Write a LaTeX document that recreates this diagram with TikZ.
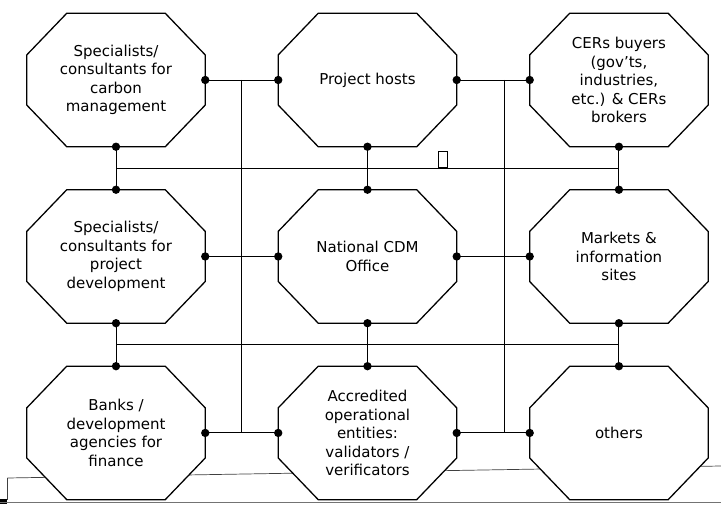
\documentclass[tikz,border=0pt]{standalone}
\usepackage{fontspec}
\setmainfont{DejaVu Sans}
\usetikzlibrary{positioning,calc,backgrounds}

\begin{document}
\begin{tikzpicture}[
    font=\fontsize{12.8}{15.8}\selectfont,
    actor/.style={rectangle, minimum width=5.34cm, minimum height=3.99cm, align=center, inner sep=2pt},
    octa/.style={draw, line width=1.1pt, fill=white, line join=miter},
    link/.style={line width=0.8pt},
    scan/.style={line width=0.6pt, black!75},
    glyphbox/.style={rectangle, draw, line width=0.7pt, minimum width=0.27cm, minimum height=0.5cm, inner sep=0pt, anchor=south},
    node distance=1.29cm and 2.19cm
]
\useasboundingbox (0,0) rectangle (21.63,15.21);

% ============================================================
% ACTORS — 3 x 3 grid
% ============================================================
\node[actor] (carbon) at (3.48,12.81) {Specialists/\\consultants for\\carbon\\management};
\node[actor, right=of carbon] (hosts)  {Project hosts};
\node[actor, right=of hosts]  (buyers) {CERs buyers\\(gov'ts,\\industries,\\etc.) \& CERs\\brokers};

\node[actor, below=of carbon] (projdev) {Specialists/\\consultants for\\project\\development};
\node[actor, below=of hosts]  (cdm)     {National CDM\\Office};
\node[actor, below=of buyers] (markets) {Markets \&\\information\\sites};

\node[actor, below=of projdev] (banks)  {Banks /\\development\\agencies for\\finance};
\node[actor, below=of cdm]     (doe)    {Accredited\\operational\\entities:\\validators /\\verificators};
\node[actor, below=of markets] (others) {others};

% octagon outlines behind the texts
\begin{scope}[on background layer]
    % scan traces along the bottom edge
    \draw[scan] (0.22,0.87) -- (21.63,1.23);
    \draw[scan] (0.22,0.87) -- (0.22,0.2);
    \fill (0,0.08) rectangle (0.22,0.25);
    \draw[scan, black!55] (0,0.15) -- (21.63,0.15);

    \foreach \n in {carbon,hosts,buyers,projdev,cdm,markets,banks,doe,others}
        \draw[octa] ([xshift=1.2cm]\n.north west) -- ([xshift=-1.2cm]\n.north east)
            -- ([yshift=-1.25cm]\n.north east) -- ([yshift=1.25cm]\n.south east)
            -- ([xshift=-1.2cm]\n.south east) -- ([xshift=1.2cm]\n.south west)
            -- ([yshift=1.25cm]\n.south west) -- ([yshift=-1.25cm]\n.north west) -- cycle;
\end{scope}

% ============================================================
% LINKS
% ============================================================
% left vertical bus
\draw[link] (carbon.east)  -- (hosts.west);
\draw[link] (projdev.east) -- (cdm.west);
\draw[link] (banks.east)   -- (doe.west);
\draw[link] ($(carbon.east)!0.5!(hosts.west)$) -- ($(banks.east)!0.5!(doe.west)$);

% right vertical bus
\draw[link] (hosts.east) -- (buyers.west);
\draw[link] (cdm.east)   -- (markets.west);
\draw[link] (doe.east)   -- (others.west);
\draw[link] ($(hosts.east)!0.65!(buyers.west)$) -- ($(doe.east)!0.65!(others.west)$);

% upper horizontal bus
\draw[link] (carbon.south) -- (projdev.north);
\draw[link] (hosts.south)  -- (cdm.north);
\draw[link] (buyers.south) -- (markets.north);
\coordinate (rowgap) at ($(hosts.south)!0.5!(cdm.north)$);
\draw[link] ($(carbon.south)!0.5!(projdev.north)$) -- ($(buyers.south)!0.5!(markets.north)$);

% lower horizontal bus
\draw[link] (projdev.south) -- (banks.north);
\draw[link] (cdm.south)     -- (doe.north);
\draw[link] (markets.south) -- (others.north);
\draw[link] ($(projdev.south)!0.5!(banks.north)$) -- ($(markets.south)!0.5!(others.north)$);

\node[glyphbox] (glyph) at ([xshift=2.25cm]rowgap) {};

% junction dots
\foreach \p in {carbon.east, hosts.west, hosts.east, buyers.west,
                projdev.east, cdm.west, cdm.east, markets.west,
                banks.east, doe.west, doe.east, others.west,
                carbon.south, projdev.north, projdev.south, banks.north,
                hosts.south, cdm.north, cdm.south, doe.north,
                buyers.south, markets.north, markets.south, others.north}
    \fill (\p) circle (1.25mm);

\end{tikzpicture}
\end{document}
